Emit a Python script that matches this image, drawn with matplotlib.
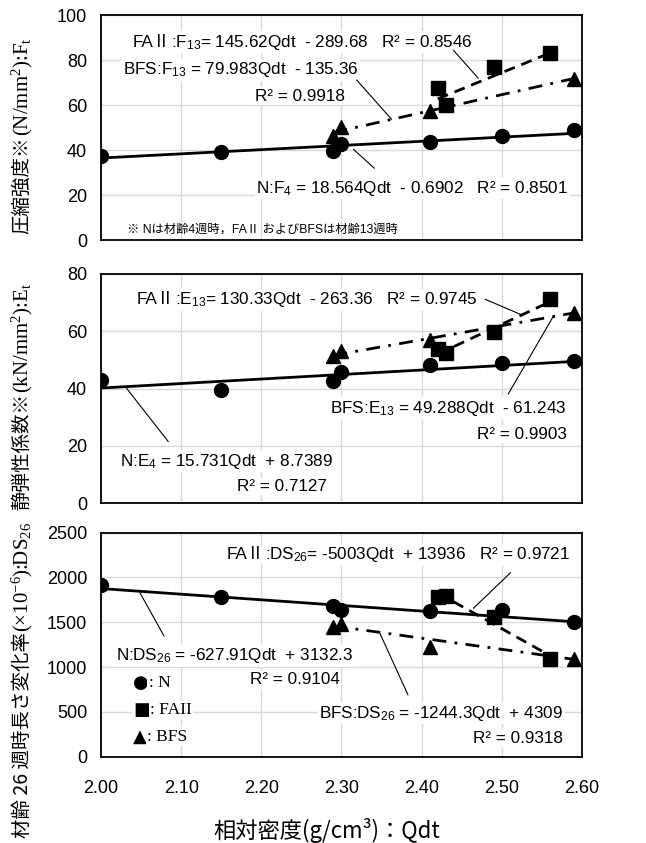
import numpy as np
import matplotlib
matplotlib.use("Agg")
import matplotlib.pyplot as plt

plt.rcParams['font.family'] = ['Liberation Sans', 'Noto Sans CJK JP', 'DejaVu Sans']

# ---- data ----
qdt_n = [2.00, 2.15, 2.29, 2.30, 2.41, 2.50, 2.59]
qdt_fa = [2.42, 2.43, 2.49, 2.56]
qdt_bfs = [2.29, 2.30, 2.41, 2.59]

f_n = [37.5, 39.3, 39.7, 42.5, 43.4, 46.3, 48.8]
f_fa = [67.4, 60.0, 76.9, 83.3]
f_bfs = [46.4, 50.1, 57.5, 71.6]

e_n = [42.9, 39.4, 42.7, 45.8, 48.1, 49.1, 49.7]
e_fa = [53.7, 52.6, 59.8, 71.4]
e_bfs = [51.4, 53.1, 57.0, 66.5]

ds_n = [1918, 1784, 1684, 1636, 1628, 1636, 1507]
ds_fa = [1777, 1792, 1554, 1085]
ds_bfs = [1444, 1481, 1228, 1090]

# trend line coefficients (slope, intercept) as printed
fit_f = {"N": (18.564, -0.6902), "FA": (145.62, -289.68), "BFS": (79.983, -135.36)}
fit_e = {"N": (15.731, 8.7389), "FA": (130.33, -263.36), "BFS": (49.288, -61.243)}
fit_ds = {"N": (-627.91, 3132.3), "FA": (-5003, 13936), "BFS": (-1244.3, 4309)}

x_ticks = [2.00, 2.10, 2.20, 2.30, 2.40, 2.50, 2.60]

fig = plt.figure(figsize=(6.46, 8.43), dpi=100)
ax1 = fig.add_axes([0.1563, 0.7153, 0.7446, 0.2669])
ax2 = fig.add_axes([0.1563, 0.4030, 0.7446, 0.2720])
ax3 = fig.add_axes([0.1563, 0.1024, 0.7446, 0.2657])

styles = {
    "N": dict(marker="o", ms=10, dashes=None),
    "FA": dict(marker="s", ms=10, dashes=(4, 2.5)),
    "BFS": dict(marker="^", ms=10.5, dashes=(5, 3, 1, 3)),
}


def draw(ax, series, fits, ymax, ystep):
    for key, (xs, ys) in series.items():
        st = styles[key]
        ax.plot(xs, ys, ls="none", marker=st["marker"], ms=st["ms"], color="black", zorder=5)
        m, b = fits[key]
        xl = np.array([min(xs), max(xs)])
        line, = ax.plot(xl, m * xl + b, color="black", lw=2, zorder=4)
        if st["dashes"]:
            line.set_dashes(st["dashes"])
    ax.set_xlim(2.0, 2.6)
    ax.set_ylim(0, ymax)
    ax.set_xticks(x_ticks)
    ax.set_yticks(np.arange(0, ymax + 1, ystep))
    ax.grid(True, color="#d9d9d9", lw=1.0, zorder=0)
    ax.set_axisbelow(True)
    ax.tick_params(length=0, labelsize=13, pad=10)
    for sp in ax.spines.values():
        sp.set_linewidth(1.3)
        sp.set_color("black")


draw(ax1, {"N": (qdt_n, f_n), "FA": (qdt_fa, f_fa), "BFS": (qdt_bfs, f_bfs)}, fit_f, 100, 20)
draw(ax2, {"N": (qdt_n, e_n), "FA": (qdt_fa, e_fa), "BFS": (qdt_bfs, e_bfs)}, fit_e, 80, 20)
draw(ax3, {"N": (qdt_n, ds_n), "FA": (qdt_fa, ds_fa), "BFS": (qdt_bfs, ds_bfs)}, fit_ds, 2500, 500)
ax1.tick_params(labelbottom=False)
ax2.tick_params(labelbottom=False)
ax3.set_xticklabels([f"{v:.2f}" for v in x_ticks])
ax3.tick_params(axis="x", pad=17)

box = dict(facecolor="white", edgecolor="none", pad=1.0)
FS = 12.3
DROP = -0.36 * FS  # points from visual centre to baseline


def label(ax, x, y, s, ha="left"):
    # "FAⅡ" needs the CJK fallback font, the rest uses mathtext subscripts
    if s.startswith("FAⅡ"):
        t = ax.annotate("FAⅡ", xy=(x, y), xytext=(0, DROP), textcoords="offset points",
                        ha="left", va="baseline", fontsize=FS, bbox=box, zorder=3)
        ax.annotate(s[3:], xy=(1, y), xycoords=(t, "data"), xytext=(0, DROP),
                    textcoords="offset points", ha="left", va="baseline",
                    fontsize=FS, bbox=box, zorder=3)
    else:
        ax.annotate(s, xy=(x, y), xytext=(0, DROP), textcoords="offset points",
                    ha=ha, va="baseline", fontsize=FS, bbox=box, zorder=3)


def leader(ax, p0, p1):
    ax.annotate("", xy=p1, xytext=p0,
                arrowprops=dict(arrowstyle="-", color="black", lw=0.8, shrinkA=0, shrinkB=0), zorder=3)


sub13 = r"$\mathregular{_{13}}$"
sub4 = r"$\mathregular{_{4}}$"
sub26 = r"$\mathregular{_{26}}$"

# top panel
label(ax1, 2.040, 88.6, "FAⅡ:F" + sub13 + "= 145.62Qdt  - 289.68   R² = 0.8546")
label(ax1, 2.027, 76.3, "BFS:F" + sub13 + " = 79.983Qdt  - 135.36")
label(ax1, 2.304, 64.7, "R² = 0.9918", ha="right")
label(ax1, 2.194, 23.7, "N:F" + sub4 + " = 18.564Qdt  - 0.6902   R² = 0.8501")
ax1.text(2.032, 4.7, "※ Nは材齢4週時，FAⅡ およびBFSは材齢13週時", ha="left", va="center",
         fontsize=8.8, family=['Liberation Sans', 'Noto Sans CJK JP'])
leader(ax1, (2.4395, 84.4), (2.4706, 71.9))
leader(ax1, (2.319, 71.1), (2.3626, 53.6))
leader(ax1, (2.315, 40.3), (2.341, 31.9))

# middle panel
label(ax2, 2.0445, 71.5, "FAⅡ:E" + sub13 + "= 130.33Qdt  - 263.36   R² = 0.9745")
label(ax2, 2.581, 33.7, "BFS:E" + sub13 + " = 49.288Qdt  - 61.243", ha="right")
label(ax2, 2.581, 24.6, "R² = 0.9903", ha="right")
label(ax2, 2.0237, 15.3, "N:E" + sub4 + " = 15.731Qdt  + 8.7389")
label(ax2, 2.282, 6.4, "R² = 0.7127", ha="right")
leader(ax2, (2.479, 71.2), (2.525, 65.7))
leader(ax2, (2.564, 65.1), (2.508, 38.1))
leader(ax2, (2.032, 40.1), (2.084, 21.5))

# bottom panel
label(ax3, 2.157, 2270, "FAⅡ:DS" + sub26 + "= -5003Qdt  + 13936   R² = 0.9721")
label(ax3, 2.0187, 1146, "N:DS" + sub26 + " = -627.91Qdt  + 3132.3")
label(ax3, 2.298, 875, "R² = 0.9104", ha="right")
label(ax3, 2.5767, 502, "BFS:DS" + sub26 + " = -1244.3Qdt  + 4309", ha="right")
label(ax3, 2.5767, 223, "R² = 0.9318", ha="right")
leader(ax3, (2.511, 2054), (2.4645, 1656))
leader(ax3, (2.0486, 1830), (2.0786, 1347))
leader(ax3, (2.347, 1395), (2.383, 689))

legend_rows = [("●", ": N", 819), ("■", ": FAII", 521), ("▲", ": BFS", 223)]
for glyph, name, yv in legend_rows:
    g = ax3.text(2.040, yv, glyph, ha="left", va="center", fontsize=13,
                 family=['DejaVu Sans'], bbox=box, zorder=3)
    ax3.annotate(name, xy=(1, 0.5), xycoords=g, ha="left", va="center", fontsize=12.5,
                 family=['Liberation Serif'], bbox=box, zorder=3)

# y labels: CJK part then serif part stacked above it
ylabels = [
    ("圧縮強度※", r"(N/mm$\mathregular{^2}$):F$\mathregular{_t}$", 234),
    ("静弾性係数※", r"(kN/mm$\mathregular{^2}$):E$\mathregular{_t}$", 510),
    ("材齢 26 週時長さ変化率", r"(×10$\mathregular{^{-6}}$):DS$\mathregular{_{26}}$", 838),
]
for cjk, rest, ybot in ylabels:
    t1 = fig.text(22 / 646, 1 - ybot / 843, cjk, rotation=90, ha="center", va="bottom",
                  fontsize=14, family=['Noto Sans CJK JP'])
    fig.add_artist(plt.Annotation(rest, xy=(0.5, 1.0), xycoords=t1, rotation=90, ha="center",
                                  va="bottom", fontsize=15, family=['Liberation Serif']))

fig.text(0.506, 0.0154, "相対密度(g/cm³)：Qdt", ha="center", va="center", fontsize=16,
         family=['Noto Sans CJK JP'])

fig.savefig("out.png", dpi=100)
